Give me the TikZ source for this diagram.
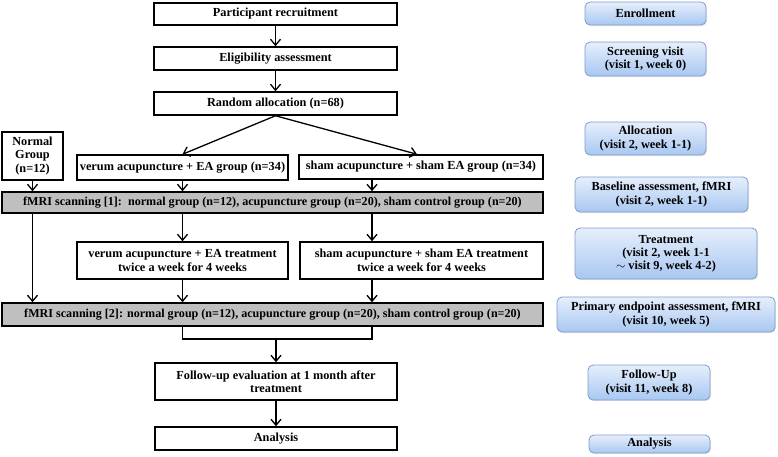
\documentclass[tikz,border=0pt]{standalone}
\usepackage{fontspec}
\setmainfont{Liberation Serif}
\usetikzlibrary{arrows.meta,shadows}
\definecolor{grayfill}{HTML}{BFBFBF}
\definecolor{bluetop}{HTML}{E6EFFC}
\definecolor{bluebot}{HTML}{A8C7F1}
\definecolor{blueedge}{HTML}{7E9CCB}
\begin{document}
\begin{tikzpicture}[x=1pt,y=-1pt,
  every node/.style={font=\bfseries\fontsize{12.3}{13.5}\selectfont, inner sep=0pt},
  box/.style={draw=black, line width=1.5pt, fill=white, align=center},
  graybox/.style={box, fill=grayfill, font=\bfseries\fontsize{12.1}{13.5}\selectfont},
  stagebox/.style={draw=blueedge, line width=0.8pt, rounded corners=5pt, top color=bluetop, bottom color=bluebot, align=center,
     drop shadow={opacity=0.18, shadow xshift=1pt, shadow yshift=-1.2pt}},
  arr/.style={line width=1.3pt, -{Straight Barb[length=6pt,width=10pt,line width=1.3pt]}},
  ln/.style={line width=1.3pt}]
\useasboundingbox (0,0) rectangle (778,456);
% left flow
\node[box, minimum width=243, minimum height=22] (pr) at (275.5,14) {Participant recruitment};
\node[box, minimum width=243, minimum height=23] (el) at (275.5,58.5) {Eligibility assessment};
\node[box, minimum width=243, minimum height=23] (ra) at (275.5,103.5) {Random allocation (n=68)};
\node[box, minimum width=61, minimum height=48] (ng) at (32.5,156) {Normal\\Group\\(n=12)};
\node[box, minimum width=211, minimum height=25] (vg) at (182.5,167.5) {verum acupuncture + EA group (n=34)};
\node[box, minimum width=244, minimum height=24] (sg) at (421,167) {sham acupuncture + sham EA group (n=34)};
\node[graybox, minimum width=541, minimum height=21] (f1) at (272.5,202.5) {fMRI scanning [1]:\ \ normal group (n=12), acupuncture group (n=20), sham control group (n=20)};
\node[box, minimum width=211, minimum height=37] (vt) at (182.5,260.5) {verum acupuncture + EA treatment\\twice a week for 4 weeks};
\node[box, minimum width=243, minimum height=37] (st) at (421.5,260.5) {sham acupuncture + sham EA treatment\\twice a week for 4 weeks};
\node[graybox, minimum width=541, minimum height=23] (f2) at (272.5,314.5) {fMRI scanning [2]: normal group (n=12), acupuncture group (n=20), sham control group (n=20)};
\node[box, minimum width=242, minimum height=37] (fu) at (276,381.5) {Follow-up evaluation at 1 month after\\treatment};
\node[box, minimum width=242, minimum height=23] (an) at (276,438.5) {Analysis};
\coordinate (sx) at (372,0);
\coordinate (bl) at (0,339);
% connectors
\draw[arr] (pr) -- (el);
\draw[arr] (el) -- (ra);
\draw[arr] (ra.south) -- (vg.north);
\draw[arr] (ra.south) -- ([xshift=-4pt]sg.north);
\draw[arr] (ng.south) -- (ng.south |- f1.north);
\draw[arr] (vg.south) -- (vg.south |- f1.north);
\draw[arr] (sg.south -| sx) -- (f1.north -| sx);
\draw[arr] (f1.south -| vt) -- (vt.north);
\draw[arr] (f1.south -| sx) -- (st.north -| sx);
\draw[arr] (f1.south -| ng) -- (f2.north -| ng);
\draw[arr] (vt.south) -- (vt.south |- f2.north);
\draw[arr] (st.south -| sx) -- (f2.north -| sx);
\draw[ln] (f2.south -| vt) -- (bl -| vt) -- (bl -| sx) -- (f2.south -| sx);
\draw[arr] (bl -| fu) -- (fu.north);
\draw[arr] (fu) -- (an);
% stage boxes
\node[stagebox, minimum width=121, minimum height=23] (s1) at (645.5,13.5) {Enrollment};
\node[stagebox, minimum width=121, minimum height=34] (s2) at (645.5,59) {Screening visit\\(visit 1, week 0)};
\node[stagebox, minimum width=121, minimum height=33] (s3) at (645.5,138.5) {Allocation\\(visit 2, week 1-1)};
\node[stagebox, minimum width=173, minimum height=35] (s4) at (661.5,194.5) {Baseline assessment, fMRI\\(visit 2, week 1-1)};
\node[stagebox, minimum width=182, minimum height=51, font=\bfseries\fontsize{12.3}{12.8}\selectfont] (s5) at (666,253.5) {Treatment\\(visit 2, week 1-1\\$\sim$ visit 9, week 4-2)};
\node[stagebox, minimum width=218, minimum height=35] (s6) at (666,314.5) {Primary endpoint assessment, fMRI\\(visit 10, week 5)};
\node[stagebox, minimum width=122, minimum height=35] (s7) at (649,382.5) {Follow-Up\\(visit 11, week 8)};
\node[stagebox, minimum width=121, minimum height=18] (s8) at (649.5,444) {Analysis};
\end{tikzpicture}
\end{document}
